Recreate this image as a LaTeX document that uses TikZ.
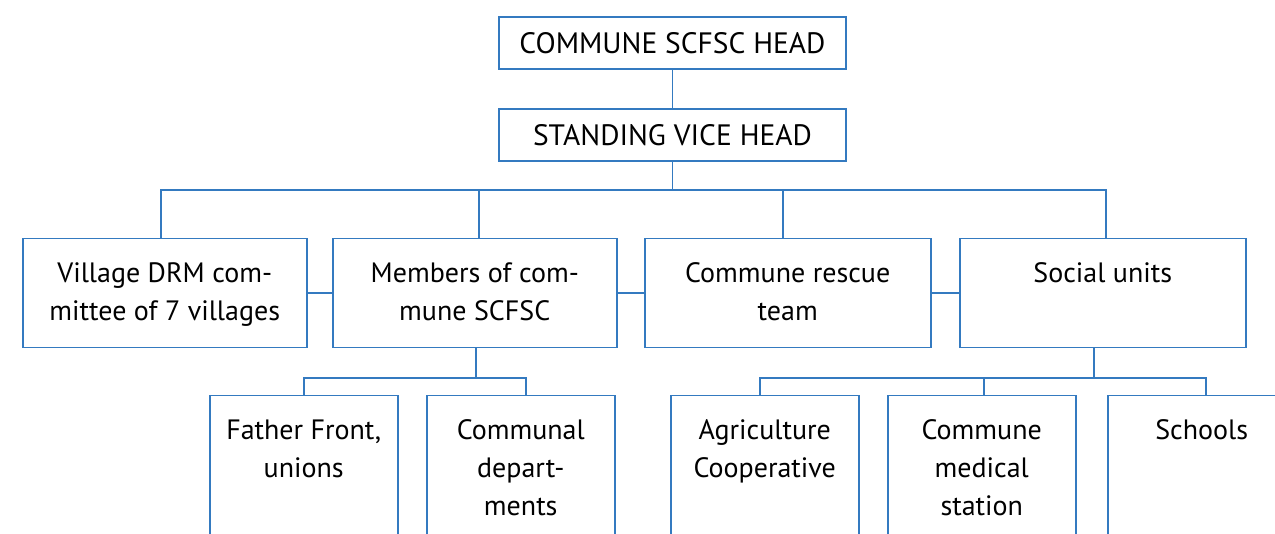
\documentclass[tikz,border=0pt]{standalone}
\usepackage{fontspec}
\setmainfont{PT Sans}
\definecolor{lb}{RGB}{52,122,192}
\newcommand\bt[3]{\parbox[c][#2][t]{#1}{\centering\fontsize{28}{38}\selectfont\rule{0pt}{44pt}#3\par}}
\tikzset{
  box/.style={draw=lb, line width=1.5pt, inner sep=0pt, anchor=north west, fill=white},
  topbox/.style={draw=lb, line width=1.5pt, inner sep=0pt, minimum width=347pt, minimum height=52pt, font=\fontsize{29.5}{34}\selectfont},
  conn/.style={draw=lb, line width=1.5pt}
}
\begin{document}
\begin{tikzpicture}[x=1pt,y=-1pt]
\useasboundingbox (0,0) rectangle (1275,534);
\clip (0,0) rectangle (1275,534);
\fill[white] (0,0) rectangle (1275,534);
\coordinate (bar1) at (0,190);
\coordinate (bar2) at (0,378);
\node[topbox] (head) at (672.5,43) {COMMUNE SCFSC HEAD};
\node[topbox] (vice) at (672.5,135) {STANDING VICE HEAD};
\node[box] (village) at (22,238) {\bt{284pt}{109pt}{Village DRM com-\\mittee of 7 villages}};
\node[box] (members) at (332,238) {\bt{284pt}{109pt}{Members of com-\\mune SCFSC}};
\node[box] (rescue) at (644,238) {\bt{286pt}{109pt}{Commune rescue\\team}};
\node[box] (social) at (959,238) {\bt{286pt}{109pt}{Social units}};
\node[box] (father) at (209,395) {\bt{188pt}{170pt}{Father Front,\\unions}};
\node[box] (communal) at (426,395) {\bt{188pt}{170pt}{Communal\\depart-\\ments}};
\node[box] (agri) at (670,395) {\bt{188pt}{170pt}{Agriculture\\Cooperative}};
\node[box] (medical) at (887,395) {\bt{188pt}{170pt}{Commune\\medical\\station}};
\node[box] (schools) at (1107,395) {\bt{188pt}{170pt}{Schools}};
\coordinate (vN) at ([xshift=-4pt]village.north);
\coordinate (mN) at ([xshift=4pt]members.north);
\coordinate (rN) at ([xshift=-5pt]rescue.north);
\coordinate (sN) at ([xshift=3pt]social.north);
\coordinate (cN) at ([xshift=5pt]communal.north);
\coordinate (aN) at ([xshift=-5pt]agri.north);
\coordinate (scN) at ([xshift=4pt]schools.north);
\draw[conn] (head.south) -- (vice.north);
\draw[conn] (vice.south) -- (vice.south |- bar1);
\draw[conn] (vN) -- (vN |- bar1) -- (sN |- bar1) -- (sN);
\draw[conn] (mN) -- (mN |- bar1);
\draw[conn] (rN) -- (rN |- bar1);
\draw[conn] (village.east) -- (members.west);
\draw[conn] (members.east) -- (rescue.west);
\draw[conn] (rescue.east) -- (social.west);
\draw[conn] ([xshift=1pt]members.south) -- ([xshift=1pt]members.south |- bar2);
\draw[conn] (father.north) -- (father.north |- bar2) -- (cN |- bar2) -- (cN);
\draw[conn] ([xshift=-9pt]social.south) -- ([xshift=-9pt]social.south |- bar2);
\draw[conn] (aN) -- (aN |- bar2) -- (scN |- bar2) -- (scN);
\draw[conn] ([xshift=2pt]medical.north) -- ([xshift=2pt]medical.north |- bar2);
\end{tikzpicture}
\end{document}
